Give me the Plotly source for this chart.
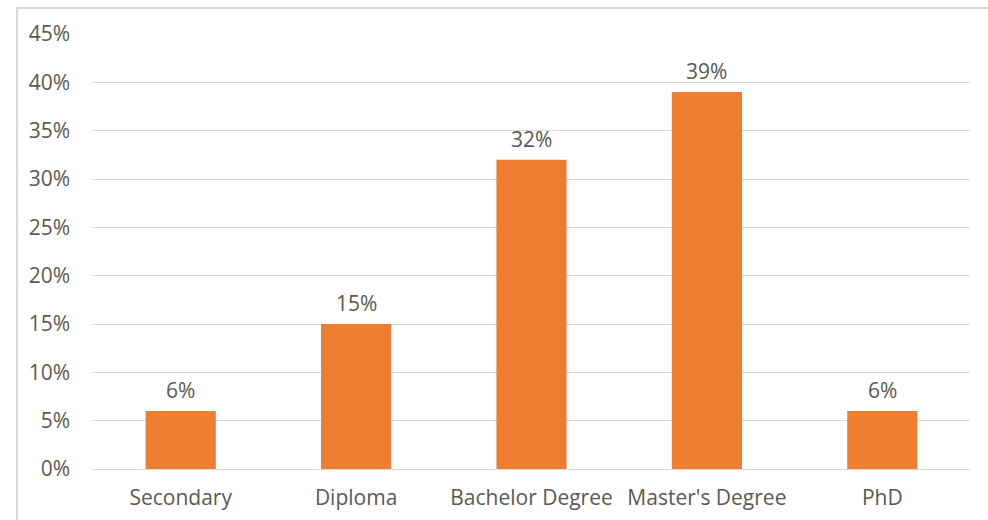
import plotly.graph_objects as go

categories = ["Secondary", "Diploma", "Bachelor Degree", "Master's Degree", "PhD"]
shares = [0.06, 0.15, 0.32, 0.39, 0.06]
tick_values = [0, 0.05, 0.10, 0.15, 0.20, 0.25, 0.30, 0.35, 0.40, 0.45]
tick_labels = ["0%", "5%", "10%", "15%", "20%", "25%", "30%", "35%", "40%", "45%"]

BAR = "#ED7D31"
TEXT = "#595959"
GRID = "#d9d9d9"
FONT = "Open Sans"
SIZE = 21

fig = go.Figure(
    go.Bar(
        x=categories,
        y=shares,
        marker=dict(color=BAR, line=dict(width=0)),
        hoverinfo="skip",
    )
)

# value labels above each bar
for cat, val in zip(categories, shares):
    fig.add_annotation(
        x=cat, y=val, text=f"{round(val * 100)}%",
        showarrow=False, yanchor="bottom", yshift=5,
        font=dict(family=FONT, size=SIZE, color=TEXT),
    )

# outer chart border
fig.add_shape(
    type="rect", xref="paper", yref="paper",
    x0=-0.0866, x1=1.05, y0=-0.2, y1=1.0598,
    line=dict(color="#d9d9d9", width=2), layer="below",
)

fig.update_layout(
    width=988, height=520,
    margin=dict(l=93, r=18, t=34, b=51),
    paper_bgcolor="white", plot_bgcolor="white",
    bargap=0.6,
    showlegend=False,
    font=dict(family=FONT, size=SIZE, color=TEXT),
    xaxis=dict(
        showgrid=False, showline=True, linecolor=GRID, linewidth=1,
        ticks="", ticklabelstandoff=10, automargin=False,
        tickfont=dict(family=FONT, size=SIZE, color=TEXT),
    ),
    yaxis=dict(
        range=[0, 0.45], tickvals=tick_values, ticktext=tick_labels,
        showgrid=True, gridcolor=GRID, gridwidth=1,
        zeroline=False, showline=False, ticks="",
        ticklabelstandoff=22, automargin=False,
        tickfont=dict(family=FONT, size=SIZE, color=TEXT),
    ),
)

fig.write_html("out.html")
